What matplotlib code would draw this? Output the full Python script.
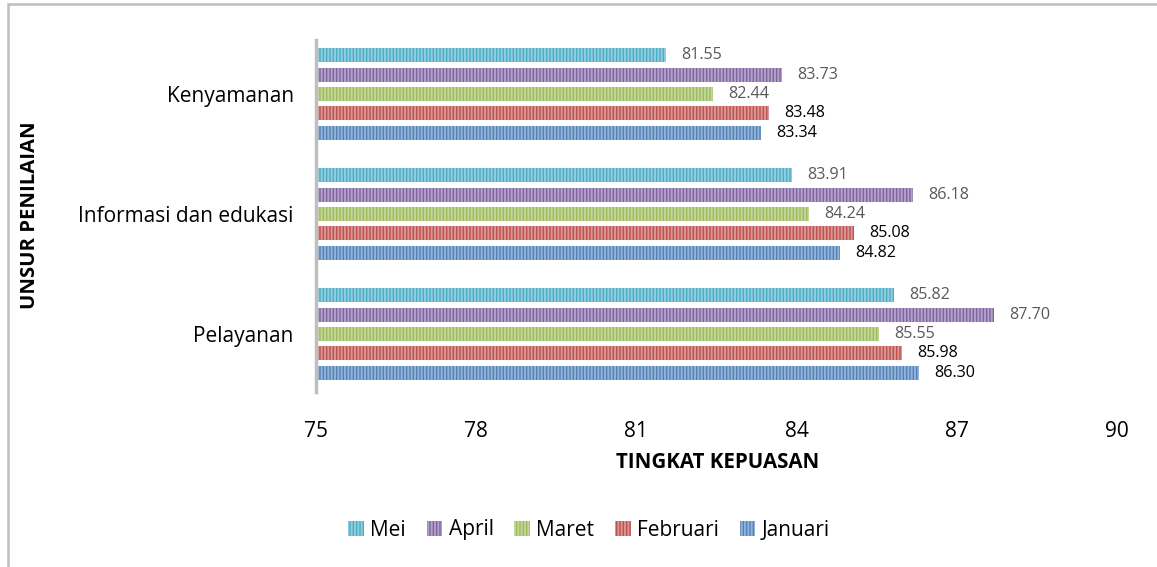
import matplotlib.pyplot as plt
import numpy as np
from matplotlib.patches import Rectangle
from matplotlib.colors import to_rgb

# ---------------------------------------------------------------------------
# Data
# ---------------------------------------------------------------------------
categories = ["Pelayanan", "Informasi dan edukasi", "Kenyamanan"]
months = ["Mei", "April", "Maret", "Februari", "Januari"]

mei      = [85.82, 83.91, 81.55]
april    = [87.70, 86.18, 83.73]
maret    = [85.55, 84.24, 82.44]
februari = [85.98, 85.08, 83.48]
januari  = [86.30, 84.82, 83.34]

series = [mei, april, maret, februari, januari]
colors = ["#4BACC6", "#8064A2", "#9BBB59", "#C0504D", "#4F81BD"]
label_colors = ["#595959", "#595959", "#595959", "#000000", "#000000"]
xticks = [75, 78, 81, 84, 87, 90]


def lighten(c, f=0.4):
    r, g, b = to_rgb(c)
    return (r + (1 - r) * f, g + (1 - g) * f, b + (1 - b) * f)


# ---------------------------------------------------------------------------
# Plot
# ---------------------------------------------------------------------------
plt.rcParams["font.family"] = ["Open Sans", "DejaVu Sans"]
plt.rcParams["hatch.linewidth"] = 1.4

fig = plt.figure(figsize=(11.57, 5.67), dpi=100)
ax = fig.add_axes([316 / 1157, 1 - 392 / 567, (1117 - 316) / 1157, (392 - 40) / 567])

y = np.arange(len(categories))
slot = 0.161
bar_h = 0.118
handles = []
for i, (vals, col, lcol, name) in enumerate(zip(series, colors, label_colors, months)):
    offset = (2 - i) * slot
    bars = ax.barh(y + offset, np.array(vals) - 75, left=75, height=bar_h,
                   color=col, edgecolor=lighten(col), linewidth=0,
                   hatch="|||||", label=name)
    for b, v in zip(bars, vals):
        ax.annotate(f"{v:.2f}", (v, b.get_y() + b.get_height() / 2),
                    xytext=(11, 0), textcoords="offset points",
                    ha="left", va="center", fontsize=11.6, color=lcol)
    handles.append(bars)

ax.set_xlim(75, 90)
ax.set_ylim(-0.483, 2.45)
ax.set_xticks(xticks)
ax.set_xticklabels([str(t) for t in xticks], fontsize=15)
ax.set_yticks(y)
ax.set_yticklabels(categories, fontsize=15)
ax.tick_params(axis="x", length=0, pad=21)
ax.tick_params(axis="y", length=0, pad=16)

for s in ["top", "right", "bottom"]:
    ax.spines[s].set_visible(False)
ax.spines["left"].set_color("#BFBFBF")
ax.spines["left"].set_linewidth(2.5)

fig.text(718 / 1157, 1 - 463 / 567, "TINGKAT KEPUASAN", ha="center", va="center",
         fontsize=14.8, fontweight="bold")
fig.text(30 / 1157, 1 - 215 / 567, "UNSUR PENILAIAN", ha="center", va="center",
         rotation=90, fontsize=14.6, fontweight="bold")

fig.legend(handles=handles, labels=months, loc="center",
           bbox_to_anchor=(589 / 1157, 1 - 530 / 567), ncol=5, frameon=False,
           fontsize=15, handlelength=0.75, handleheight=0.75,
           handletextpad=0.3, columnspacing=1.0)

# outer chart border (only top and left edges visible in the crop)
fig.patches.append(Rectangle((8 / 1157, -0.05), 1.2, 1 - 4 / 567 + 0.05,
                             transform=fig.transFigure, fill=False,
                             edgecolor="#BFBFBF", linewidth=1.8))

plt.savefig("out.png", dpi=100)
